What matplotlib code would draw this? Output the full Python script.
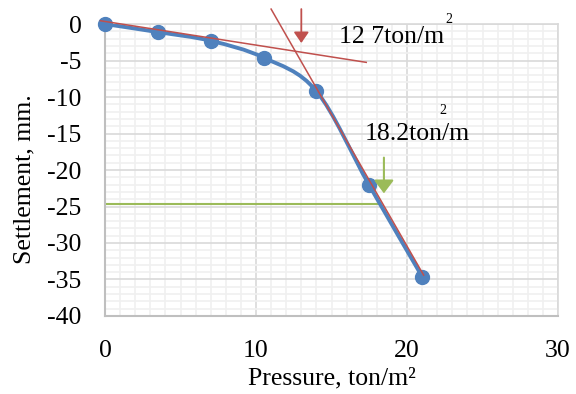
#!/usr/bin/env python3
"""Plate load test: settlement vs pressure with tangent intersection."""

import matplotlib

matplotlib.use("Agg")
import matplotlib.pyplot as plt
from matplotlib.path import Path
from matplotlib.patches import PathPatch
from matplotlib.ticker import MultipleLocator

# measured curve
pressure = [0, 3.5, 7, 10.5, 14, 17.5, 21]
settlement = [0, -1.1, -2.3, -4.6, -9.2, -22.1, -34.6]

# tangent lines (x pair, y pair)
tangent_start_x = [-0.3, 17.3]
tangent_start_y = [0.45, -5.25]
tangent_end_x = [11.0, 21.1]
tangent_end_y = [2.05, -34.4]

# 18.2 ton/m2 reference level
level_x = [0, 18.1]
level_y = [-24.65, -24.65]

# arrows: x, y_from, y_to
red_arrow = [13.0, 2.05, -2.6]
green_arrow = [18.47, -18.3, -23.2]

BLUE = "#4F81BD"
RED = "#C0504D"
GREEN = "#9BBB59"


def smooth_path(xs, ys):
    # excel-style bezier smoothing through the points
    pts = list(zip(xs, ys))
    n = len(pts)
    verts = [pts[0]]
    codes = [Path.MOVETO]
    for i in range(n - 1):
        p0 = pts[i - 1] if i > 0 else pts[i]
        p1 = pts[i]
        p2 = pts[i + 1]
        p3 = pts[i + 2] if i + 2 < n else pts[i + 1]
        c1 = (p1[0] + (p2[0] - p0[0]) / 6, p1[1] + (p2[1] - p0[1]) / 6)
        c2 = (p2[0] - (p3[0] - p1[0]) / 6, p2[1] - (p3[1] - p1[1]) / 6)
        verts += [c1, c2, p2]
        codes += [Path.CURVE4] * 3
    return Path(verts, codes)


plt.rcParams.update(
    {
        "font.family": "Liberation Serif",
        "font.size": 18.5,
        "axes.unicode_minus": False,
    }
)

fig = plt.figure(figsize=(5.76, 3.94), dpi=100)
ax = fig.add_axes([0.1823, 0.198, 0.7865, 0.741])

ax.set_xlim(0, 30)
ax.set_ylim(-40, 0)
ax.xaxis.set_major_locator(MultipleLocator(10))
ax.xaxis.set_minor_locator(MultipleLocator(1))
ax.yaxis.set_major_locator(MultipleLocator(5))
ax.yaxis.set_minor_locator(MultipleLocator(1))
ax.grid(which="minor", color="#F0F0F0", linewidth=1.2, zorder=0)
ax.grid(which="major", color="#D9D9D9", linewidth=1.2, zorder=0)
ax.set_axisbelow(True)
ax.tick_params(which="both", length=0)
ax.tick_params(axis="x", pad=17)
ax.tick_params(axis="y", pad=17)

for side in ["left", "bottom"]:
    ax.spines[side].set_color("#BFBFBF")
    ax.spines[side].set_linewidth(1.5)
for side in ["top", "right"]:
    ax.spines[side].set_color("#D9D9D9")
    ax.spines[side].set_linewidth(1.2)

ax.plot(level_x, level_y, color=GREEN, linewidth=1.5, zorder=2)

ax.add_patch(PathPatch(smooth_path(pressure, settlement), facecolor="none",
                       edgecolor=BLUE, linewidth=2.8, zorder=3))
ax.plot(pressure, settlement, linestyle="none", marker="o", markersize=10,
        color=BLUE, zorder=4, clip_on=False)

ax.plot(tangent_start_x, tangent_start_y, color=RED, linewidth=1.1, zorder=5, clip_on=False)
ax.plot(tangent_end_x, tangent_end_y, color=RED, linewidth=1.1, zorder=5, clip_on=False)

ax.annotate("", xy=(red_arrow[0], red_arrow[2]), xytext=(red_arrow[0], red_arrow[1]),
            arrowprops=dict(arrowstyle="-|>,head_length=0.65,head_width=0.45",
                            color=RED, lw=1.3, shrinkA=0, shrinkB=0, mutation_scale=10),
            annotation_clip=False, zorder=6)
ax.annotate("", xy=(green_arrow[0], green_arrow[2]), xytext=(green_arrow[0], green_arrow[1]),
            arrowprops=dict(arrowstyle="-|>,head_length=0.8,head_width=0.6",
                            color=GREEN, lw=1.5, shrinkA=0, shrinkB=0, mutation_scale=10),
            zorder=6)

ax.text(15.5, -2.6, "12 7ton/m", fontsize=18.5, ha="left", va="baseline", zorder=7)
ax.text(22.8, 0.6, "2", fontsize=10, ha="center", va="center", zorder=7)
ax.text(17.2, -15.9, "18.2ton/m", fontsize=18.5, ha="left", va="baseline", zorder=7)
ax.text(22.4, -11.9, "2", fontsize=10, ha="center", va="center", zorder=7)

ax.set_xlabel("Pressure, ton/m²", fontsize=18.5, labelpad=4)
ax.set_ylabel("Settlement, mm.", fontsize=18.5)
ax.yaxis.set_label_coords(-0.177, 0.47)
ax.yaxis.label.set_va("center")

fig.savefig("out.png", dpi=100)
